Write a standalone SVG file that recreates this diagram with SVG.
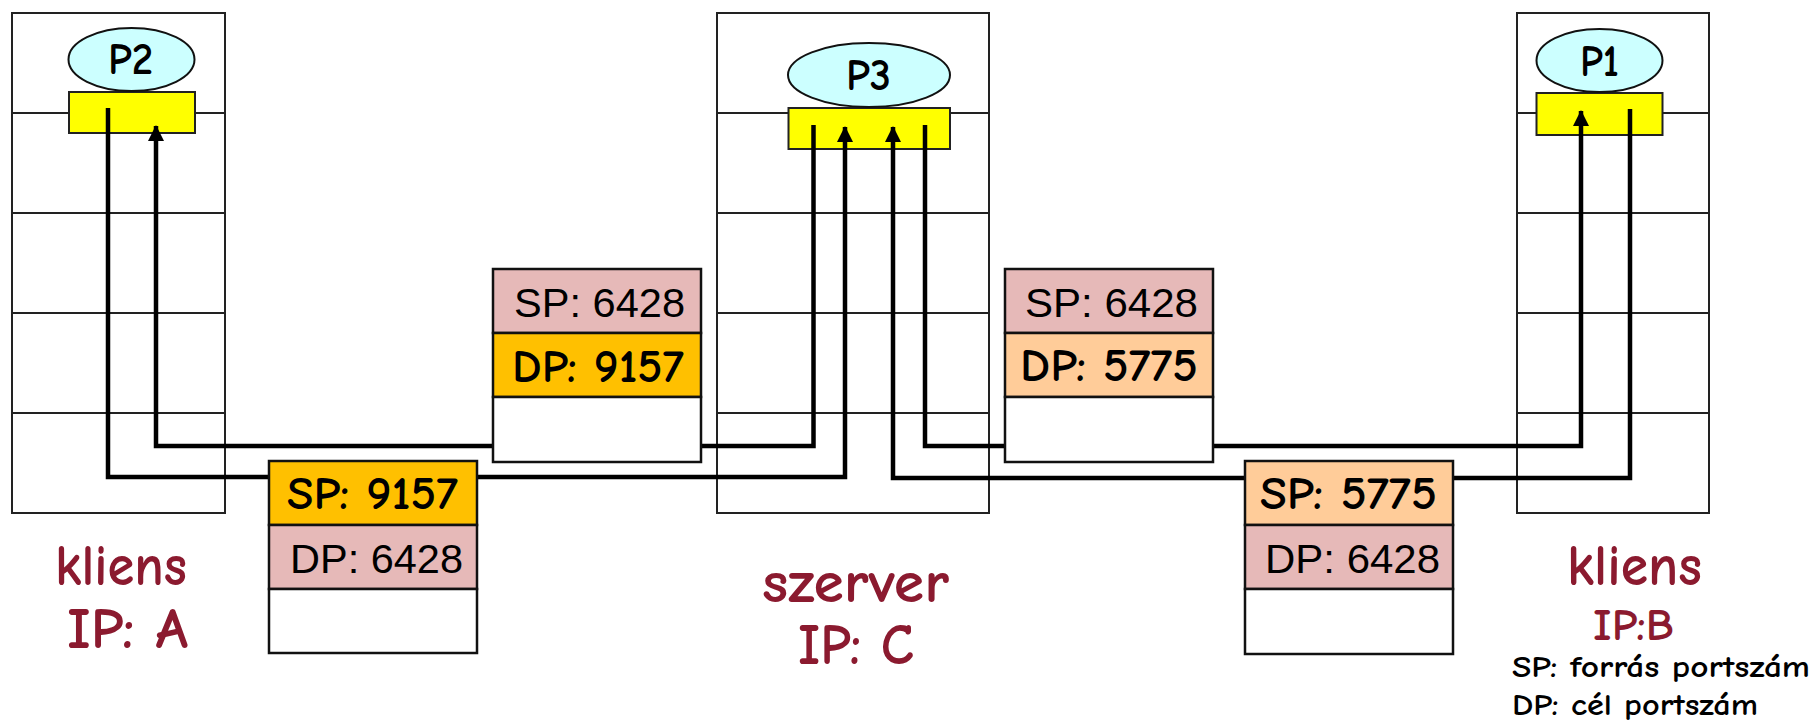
<svg xmlns="http://www.w3.org/2000/svg" width="1816" height="720" viewBox="0 0 1816 720">
<style>
.host{fill:#fff;stroke:#222;stroke-width:2}
.row{stroke:#222;stroke-width:2}
.sock{fill:#ffff00;stroke:#222;stroke-width:2}
.proc{fill:#ccffff;stroke:#111;stroke-width:2}
.cell{stroke:#111;stroke-width:2.5}
.pink{fill:#e6b9b8}
.orange{fill:#ffc000}
.peach{fill:#ffcc99}
.white{fill:#fff}
.conn{fill:none;stroke:#000;stroke-width:4.5;stroke-linejoin:miter;stroke-linecap:butt}
.comic{font-family:"Comic Sans MS","Comic Neue","DejaVu Sans",sans-serif;font-weight:bold}
.arial{font-family:"Liberation Sans",Arial,sans-serif;font-size:40px;fill:#000}
.pk{font-size:46px;fill:#000}
.lbl{font-size:58px;fill:#8b1a2f}
.pl{font-size:44px;fill:#000}
.leg{font-size:31px;fill:#000}
</style>
<defs>
<marker id="ah" markerUnits="userSpaceOnUse" markerWidth="16" markerHeight="18" viewBox="0 0 16 18" refX="15" refY="8" orient="auto">
<path d="M0,0 L16,8 L0,16 z" fill="#000"/>
</marker>
</defs>
<rect width="1816" height="720" fill="#fff"/>

<g id="hostA">
<rect class="host" x="12" y="13" width="213" height="500"/>
<line class="row" x1="12" y1="113" x2="225" y2="113"/>
<line class="row" x1="12" y1="213" x2="225" y2="213"/>
<line class="row" x1="12" y1="313" x2="225" y2="313"/>
<line class="row" x1="12" y1="413" x2="225" y2="413"/>
<rect class="sock" x="69" y="92" width="126" height="41"/>
<ellipse class="proc" cx="131.5" cy="59.5" rx="63" ry="31.5"/>
<text class="comic pl" x="108" y="74" textLength="45" lengthAdjust="spacingAndGlyphs">P2</text>
</g>

<g id="server">
<rect class="host" x="717" y="13" width="272" height="500"/>
<line class="row" x1="717" y1="113" x2="989" y2="113"/>
<line class="row" x1="717" y1="213" x2="989" y2="213"/>
<line class="row" x1="717" y1="313" x2="989" y2="313"/>
<line class="row" x1="717" y1="413" x2="989" y2="413"/>
<rect class="sock" x="788.5" y="108" width="161.5" height="41"/>
<ellipse class="proc" cx="869" cy="75" rx="81" ry="32"/>
<text class="comic pl" x="846" y="90" textLength="45" lengthAdjust="spacingAndGlyphs">P3</text>
</g>

<g id="hostB">
<rect class="host" x="1517" y="13" width="192" height="500"/>
<line class="row" x1="1517" y1="113" x2="1709" y2="113"/>
<line class="row" x1="1517" y1="213" x2="1709" y2="213"/>
<line class="row" x1="1517" y1="313" x2="1709" y2="313"/>
<line class="row" x1="1517" y1="413" x2="1709" y2="413"/>
<rect class="sock" x="1536.5" y="93" width="126" height="42"/>
<ellipse class="proc" cx="1599.5" cy="60.5" rx="63" ry="31.5"/>
<text class="comic pl" x="1580" y="76" textLength="39" lengthAdjust="spacingAndGlyphs">P1</text>
</g>

<g id="connectors">
<path class="conn" d="M108,108 V477 H845 V127" marker-end="url(#ah)"/>
<path class="conn" d="M813.5,125 V446 H156 V126" marker-end="url(#ah)"/>
<path class="conn" d="M1630,109 V478 H893 V127" marker-end="url(#ah)"/>
<path class="conn" d="M925,125 V446 H1581 V111" marker-end="url(#ah)"/>
</g>

<g id="pkt1">
<rect class="cell orange" x="269" y="461" width="208" height="64"/>
<rect class="cell pink" x="269" y="525" width="208" height="64"/>
<rect class="cell white" x="269" y="589" width="208" height="64"/>
<text class="comic pk" x="287" y="509" textLength="171" lengthAdjust="spacingAndGlyphs">SP: 9157</text>
<text class="arial" x="290" y="573" textLength="173" lengthAdjust="spacingAndGlyphs">DP: 6428</text>
</g>

<g id="pkt2">
<rect class="cell pink" x="493" y="269" width="208" height="64"/>
<rect class="cell orange" x="493" y="333" width="208" height="64"/>
<rect class="cell white" x="493" y="397" width="208" height="65"/>
<text class="arial" x="514" y="317" textLength="171" lengthAdjust="spacingAndGlyphs">SP: 6428</text>
<text class="comic pk" x="512" y="382" textLength="172" lengthAdjust="spacingAndGlyphs">DP: 9157</text>
</g>

<g id="pkt3">
<rect class="cell pink" x="1005" y="269" width="208" height="64"/>
<rect class="cell peach" x="1005" y="333" width="208" height="64"/>
<rect class="cell white" x="1005" y="397" width="208" height="65"/>
<text class="arial" x="1025" y="317" textLength="173" lengthAdjust="spacingAndGlyphs">SP: 6428</text>
<text class="comic pk" x="1020" y="381" textLength="178" lengthAdjust="spacingAndGlyphs">DP: 5775</text>
</g>

<g id="pkt4">
<rect class="cell peach" x="1245" y="461" width="208" height="64"/>
<rect class="cell pink" x="1245" y="525" width="208" height="64"/>
<rect class="cell white" x="1245" y="589" width="208" height="65"/>
<text class="comic pk" x="1260" y="509" textLength="177" lengthAdjust="spacingAndGlyphs">SP: 5775</text>
<text class="arial" x="1265" y="573" textLength="175" lengthAdjust="spacingAndGlyphs">DP: 6428</text>
</g>

<g id="labelA">
<text class="comic lbl" x="55" y="585" textLength="132" lengthAdjust="spacingAndGlyphs">kliens</text>
<text class="comic lbl" x="67" y="648" textLength="121" lengthAdjust="spacingAndGlyphs">IP: A</text>
</g>
<g id="labelC">
<text class="comic lbl" x="762" y="602" textLength="187" lengthAdjust="spacingAndGlyphs">szerver</text>
<text class="comic lbl" x="798" y="664" textLength="116" lengthAdjust="spacingAndGlyphs">IP: C</text>
</g>
<g id="labelB">
<text class="comic lbl" x="1567" y="585" textLength="135" lengthAdjust="spacingAndGlyphs">kliens</text>
<text class="comic lbl" x="1593" y="640" style="font-size:44px" textLength="81" lengthAdjust="spacingAndGlyphs">IP:B</text>
</g>
<g id="legend">
<text class="comic leg" x="1512" y="677" textLength="298" lengthAdjust="spacingAndGlyphs">SP: forrás portszám</text>
<text class="comic leg" x="1512" y="715" textLength="246" lengthAdjust="spacingAndGlyphs">DP: cél portszám</text>
</g>
</svg>
